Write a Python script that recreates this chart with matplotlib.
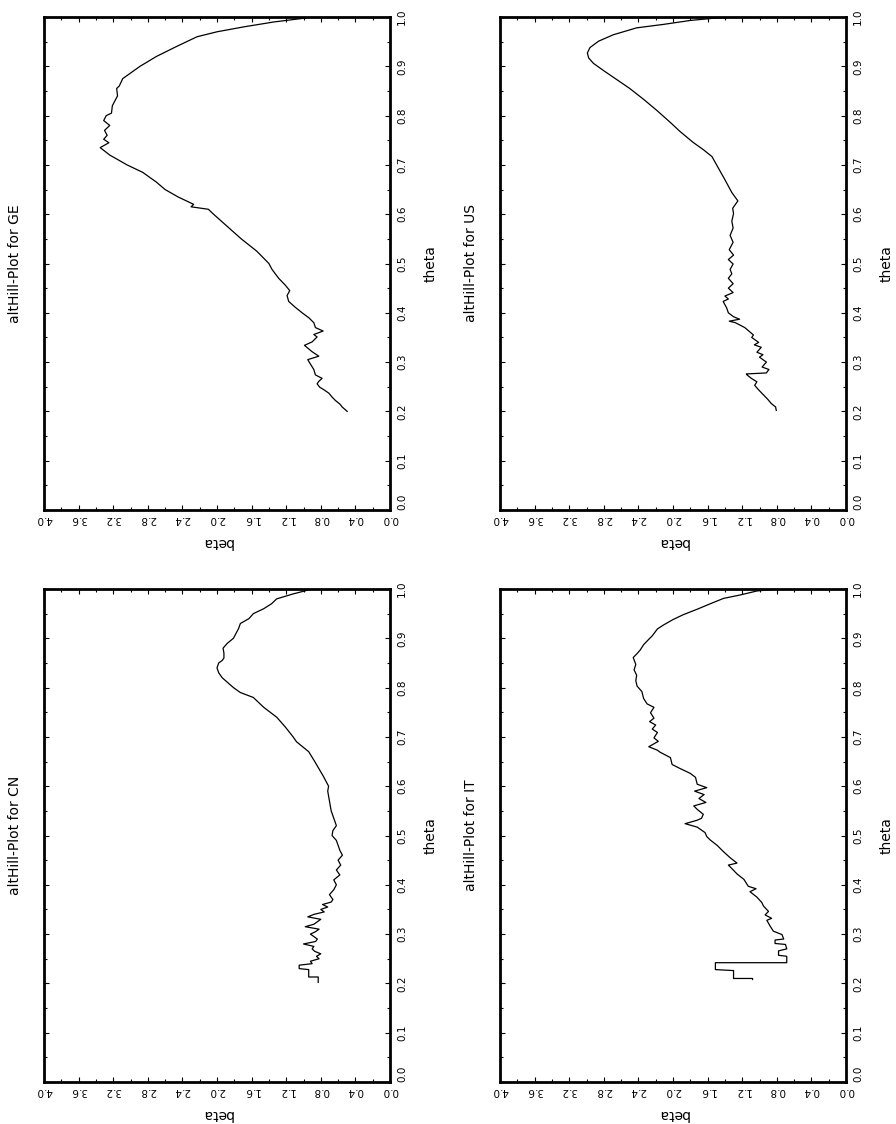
import matplotlib
matplotlib.use("Agg")
import matplotlib.pyplot as plt
import numpy as np
from matplotlib.ticker import MultipleLocator, FormatStrFormatter

# altHill-plot values per country (theta, beta)
ge_theta = [.200, .209, .215, .222, .229, .237, .244, .249, .256, .261, .267, .274, .285, .296, .305,
            .312, .321, .334, .341, .351, .356, .363, .370, .380, .390, .400, .411, .423, .435, .445,
            .456, .470, .488, .500, .525, .550, .575, .600, .610, .615, .620, .635, .650, .665, .680,
            .685, .700, .720, .735, .745, .752, .760, .770, .780, .790, .800, .805, .820, .840, .855,
            .860, .875, .880, .900, .920, .940, .960, .970, .980, .990, 1.0]
ge_beta = [.495, .553, .580, .630, .669, .707, .765, .812, .843, .823, .785, .862, .881, .920, .951,
           .823, .900, .989, .900, .843, .881, .773, .862, .881, .939, 1.016, 1.094, 1.171, 1.190, 1.159,
           1.210, 1.287, 1.364, 1.40, 1.54, 1.72, 1.88, 2.04, 2.10, 2.30, 2.27, 2.45, 2.60, 2.70, 2.82,
           2.86, 3.04, 3.24, 3.35, 3.25, 3.31, 3.27, 3.30, 3.24, 3.31, 3.28, 3.22, 3.21, 3.15, 3.16,
           3.13, 3.09, 3.05, 2.89, 2.70, 2.47, 2.23, 2.00, 1.69, 1.34, 0.88]

us_theta = [.202, .209, .216, .224, .231, .238, .245, .253, .260, .267, .274, .276, .278, .285, .290,
            .300, .310, .315, .320, .330, .335, .340, .350, .355, .370, .380, .383, .387, .392, .400,
            .410, .423, .428, .434, .441, .450, .459, .470, .479, .488, .499, .508, .517, .528, .543,
            .557, .572, .586, .601, .612, .627, .644, .670, .695, .717, .731, .746, .768, .786, .811,
            .833, .855, .873, .891, .906, .917, .927, .938, .951, .964, .978, .985, .993, .998, 1.0]
us_beta = [.806, .814, .864, .902, .940, .979, 1.017, 1.056, 1.03, 1.094, 1.144, 1.152, .921, .891, .97,
           .92, 1.00, .96, 1.03, .98, 1.06, 1.01, 1.09, 1.07, 1.17, 1.28, 1.35, 1.23, 1.30, 1.36,
           1.38, 1.42, 1.36, 1.40, 1.305, 1.36, 1.305, 1.36, 1.32, 1.34, 1.305, 1.36, 1.30, 1.35, 1.305,
           1.34, 1.305, 1.32, 1.30, 1.31, 1.25, 1.32, 1.40, 1.48, 1.55, 1.65, 1.77, 1.92, 2.03, 2.19,
           2.34, 2.50, 2.65, 2.80, 2.92, 2.975, 2.99, 2.96, 2.86, 2.69, 2.42, 2.11, 1.80, 1.50, 1.19]

cn_theta = [.202, .213, .213, .228, .230, .237, .240, .245, .250, .255, .260, .265, .270, .275, .280,
            .285, .290, .300, .305, .310, .315, .320, .325, .330, .335, .340, .345, .350, .355, .360,
            .365, .370, .380, .390, .400, .410, .420, .430, .440, .450, .460, .470, .480, .490, .500,
            .510, .520, .530, .550, .570, .590, .600, .620, .650, .670, .690, .700, .720, .740, .760,
            .780, .790, .800, .820, .830, .840, .850, .855, .860, .870, .880, .890, .900, .920, .930,
            .940, .950, .960, .970, .980, .990, 1.0]
cn_beta = [.83, .83, .94, .94, 1.05, 1.05, .90, .92, .82, .85, .80, .87, .90, .88, 1.00,
           .86, .84, .92, .86, .82, .98, .88, .84, .80, .95, .88, .76, .80, .72, .78,
           .68, .66, .70, .65, .62, .65, .58, .62, .57, .60, .55, .58, .60, .62, .67,
           .66, .62, .64, .68, .70, .72, .71, .77, .87, .94, 1.08, 1.12, 1.21, 1.31, 1.46,
           1.58, 1.73, 1.81, 1.94, 1.98, 2.00, 1.98, 1.94, 1.92, 1.92, 1.93, 1.88, 1.81, 1.75, 1.73,
           1.63, 1.58, 1.46, 1.37, 1.31, 1.12, .90]

it_theta = [.208, .210, .210, .226, .228, .242, .242, .255, .257, .266, .270, .279, .281, .288, .290,
            .299, .306, .317, .328, .332, .339, .346, .357, .364, .375, .386, .392, .397, .411, .422,
            .433, .440, .444, .455, .467, .480, .491, .498, .506, .517, .524, .531, .535, .543, .553,
            .560, .567, .575, .583, .590, .597, .604, .618, .626, .636, .644, .658, .669, .673, .680,
            .691, .698, .709, .716, .724, .731, .738, .749, .760, .767, .778, .792, .803, .814, .825,
            .836, .847, .861, .869, .876, .887, .898, .905, .919, .927, .938, .948, .959, .970, .981,
            .988, .996, 1.0]
it_beta = [1.08, 1.08, 1.30, 1.30, 1.51, 1.51, .685, .685, .78, .78, .685, .70, .82, .82, .72,
           .74, .84, .88, .915, .86, .935, .896, .954, .973, 1.03, 1.11, 1.04, 1.13, 1.18, 1.26,
           1.32, 1.36, 1.26, 1.34, 1.415, 1.49, 1.57, 1.61, 1.63, 1.72, 1.86, 1.72, 1.67, 1.65, 1.72,
           1.76, 1.62, 1.70, 1.64, 1.75, 1.61, 1.72, 1.74, 1.80, 1.92, 2.01, 2.03, 2.15, 2.18, 2.28,
           2.17, 2.22, 2.18, 2.24, 2.20, 2.27, 2.22, 2.26, 2.22, 2.30, 2.34, 2.36, 2.415, 2.43, 2.42,
           2.45, 2.43, 2.46, 2.415, 2.38, 2.34, 2.28, 2.24, 2.18, 2.11, 2.0, 1.88, 1.72, 1.57, 1.415,
           1.22, 1.03, .78]

theta_ticks = np.round(np.arange(0.0, 1.01, 0.1), 1)

W, H = 896, 1124


def panel(fig, left_px, top_px, theta, beta, name):

    width_px, height_px = 346, 493
    ax = fig.add_axes([left_px / W, 1 - (top_px + height_px) / H, width_px / W, height_px / H])

    ax.plot(beta, theta, color="black", lw=0.9)

    ax.set_xlim(4.0, 0.0)
    ax.set_ylim(0.0, 1.0)

    ax.xaxis.set_major_locator(MultipleLocator(0.4))
    ax.xaxis.set_minor_locator(MultipleLocator(0.2))
    ax.set_yticks(theta_ticks)
    ax.yaxis.set_minor_locator(MultipleLocator(0.05))
    ax.xaxis.set_major_formatter(FormatStrFormatter("%.1f"))
    ax.yaxis.set_major_formatter(FormatStrFormatter("%.1f"))

    ax.tick_params(which="both", direction="in", top=True, bottom=True, left=True, right=True,
                   labelleft=False, labelright=True, labelbottom=True, width=0.8, color="black")
    ax.tick_params(which="major", length=3.5)
    ax.tick_params(which="minor", length=2.2)
    ax.tick_params(axis="x", labelsize=7.5, pad=3, labelrotation=180)
    ax.tick_params(axis="y", labelsize=7.5, pad=5, labelrotation=90)

    labels = ax.get_yticklabels()
    for lab in labels:
        lab.set_verticalalignment("center")
    # the 0.0 label sits inside the frame, just above the corner
    labels[0].set_verticalalignment("bottom")

    for s in ax.spines.values():
        s.set_linewidth(2.0)

    ax.text(-0.084, 0.5, "altHill-Plot for " + name, rotation=90, transform=ax.transAxes,
            ha="center", va="center", fontsize=10)
    ax.text(1.116, 0.5, "theta", rotation=90, transform=ax.transAxes,
            ha="center", va="center", fontsize=10)
    ax.text(0.5, -0.064, "beta", rotation=180, transform=ax.transAxes,
            ha="center", va="center", fontsize=10)

    return ax


def main():

    fig = plt.figure(figsize=(W / 100, H / 100), dpi=100)

    panel(fig, 44, 17, ge_theta, ge_beta, "GE")
    panel(fig, 500, 17, us_theta, us_beta, "US")
    panel(fig, 44, 589, cn_theta, cn_beta, "CN")
    panel(fig, 500, 589, it_theta, it_beta, "IT")

    fig.savefig("out.png", dpi=100)


if __name__ == "__main__":
    main()
